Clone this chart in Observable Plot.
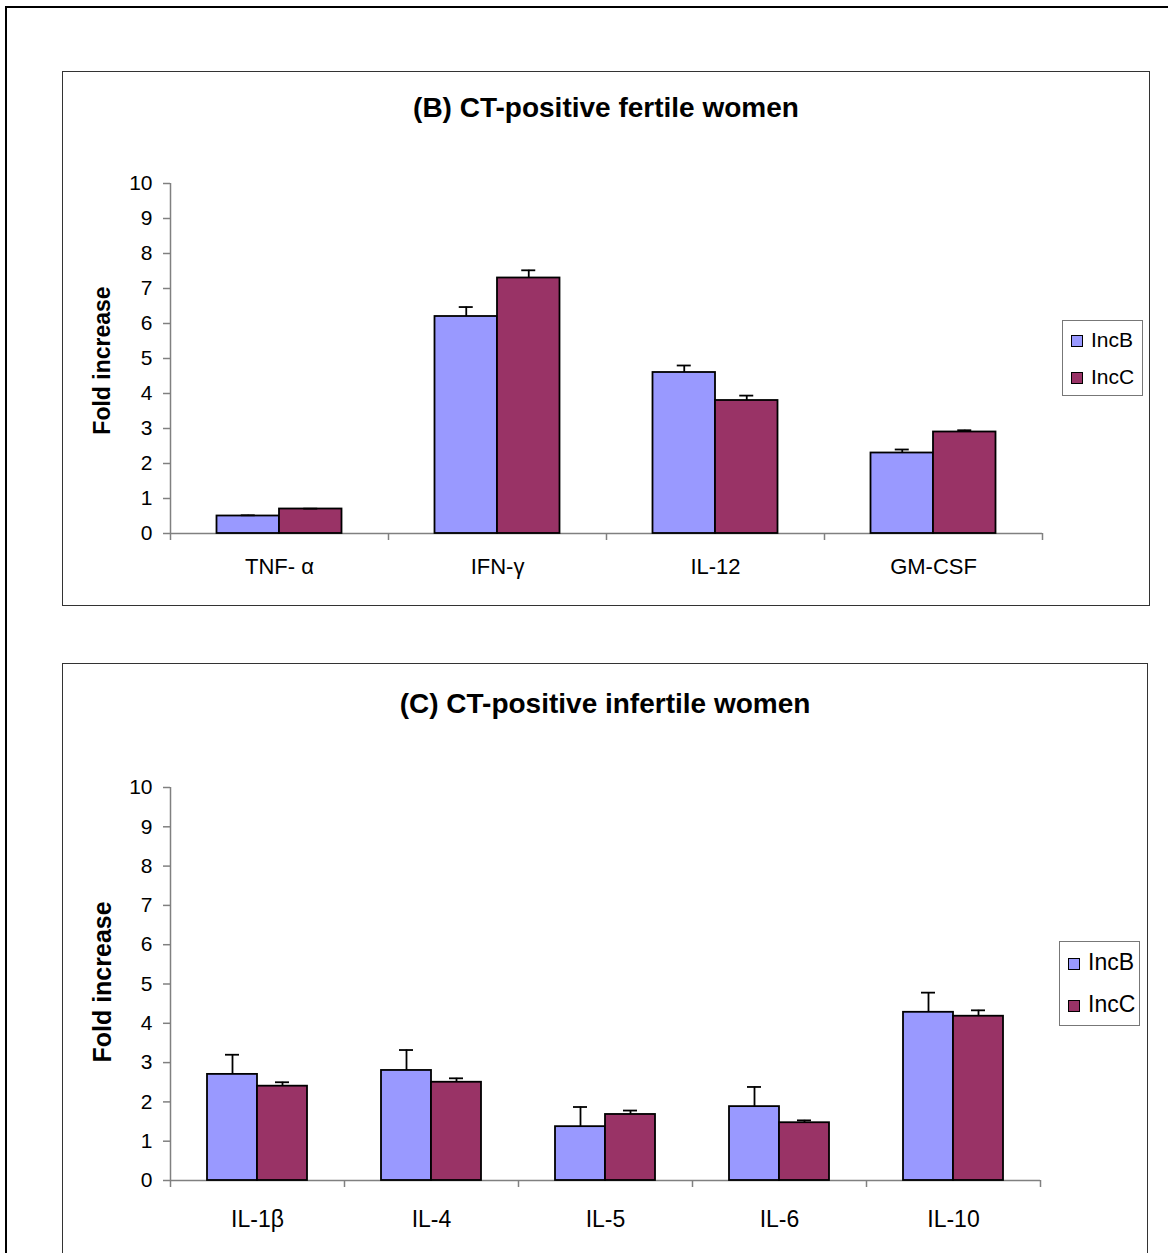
<!DOCTYPE html>
<html>
<head>
<meta charset="utf-8">
<script src="https://cdn.jsdelivr.net/npm/d3@7"></script>
<script src="https://cdn.jsdelivr.net/npm/@observablehq/plot@0.6"></script>
<style>
  html, body { margin: 0; padding: 0; background: #fff; }
  body { width: 1168px; height: 1253px; overflow: hidden; position: relative;
         font-family: "Liberation Sans", Arial, sans-serif; color: #000; }
  .abs { position: absolute; box-sizing: border-box; }
  .outer { left: 5px; top: 6px; width: 1200px; height: 1300px; border: 2px solid #000; }
  .panel { border: 1.6px solid #333; background: #fff; }
  .title { font-weight: bold; font-size: 28px; line-height: 32px; text-align: center; white-space: nowrap; }
  .legend { border: 1.5px solid #777; background: #fff; }
  .sw { position: absolute; width: 12px; height: 12px; box-sizing: border-box; border: 1.5px solid #000; }
  .lt { position: absolute; white-space: nowrap; line-height: 1; }
  svg { position: absolute; overflow: visible; }
</style>
</head>
<body>
<div class="abs outer"></div>
<div class="abs panel" style="left:62px;top:71px;width:1088px;height:535px;"></div>
<div class="abs panel" style="left:62px;top:663px;width:1086px;height:700px;"></div>
<div id="chartB"></div>
<div id="chartC"></div>
<script>
// ---- Data ----
const seriesNames = ["IncB", "IncC"];
const seriesColors = ["#9999FF", "#993366"];
const yTicks = [0, 1, 2, 3, 4, 5, 6, 7, 8, 9, 10];

const titleB = "(B) CT-positive fertile women";
const catsB = ["TNF- α", "IFN-γ", "IL-12", "GM-CSF"];
const incB_B = [0.5, 6.2, 4.6, 2.3];
const errB_B = [0.02, 0.27, 0.2, 0.1];
const incC_B = [0.7, 7.3, 3.8, 2.9];
const errC_B = [0.01, 0.22, 0.14, 0.05];

const titleC = "(C) CT-positive infertile women";
const catsC = ["IL-1β", "IL-4", "IL-5", "IL-6", "IL-10"];
const incB_C = [2.7, 2.8, 1.37, 1.88, 4.28];
const errB_C = [0.5, 0.52, 0.5, 0.5, 0.5];
const incC_C = [2.4, 2.5, 1.68, 1.47, 4.18];
const errC_C = [0.1, 0.1, 0.1, 0.06, 0.15];

const yLabel = "Fold increase";
const axisColor = "#808080";

function addTitle(text, left, width, top) {
  const d = document.createElement("div");
  d.className = "abs title";
  d.style.left = left + "px"; d.style.width = width + "px"; d.style.top = top + "px";
  d.textContent = text;
  document.body.appendChild(d);
}

function addLegend(o) {
  const box = document.createElement("div");
  box.className = "abs legend";
  Object.assign(box.style, {left: o.left + "px", top: o.top + "px", width: o.width + "px", height: o.height + "px"});
  seriesNames.forEach((name, i) => {
    const sw = document.createElement("div");
    sw.className = "sw";
    sw.style.background = seriesColors[i];
    sw.style.left = o.swLeft + "px";
    sw.style.top = (o.firstTop + i * o.gap) + "px";
    box.appendChild(sw);
    const t = document.createElement("div");
    t.className = "lt";
    t.style.fontSize = o.fontSize + "px";
    t.style.left = o.textLeft + "px";
    t.style.top = (o.firstTop + i * o.gap + o.textDy) + "px";
    t.textContent = name;
    box.appendChild(t);
  });
  document.body.appendChild(box);
}

function chart(o) {
  const {cats, b, be, c, ce} = o;
  const rows = cats.map((cat, i) => ({cat, b: b[i], be: be[i], c: c[i], ce: ce[i]}));
  const step = (o.width - o.marginLeft - o.marginRight) / cats.length;
  const w = o.barWidth, cap = o.capHalf;
  const svg = Plot.plot({
    width: o.width, height: o.height,
    marginLeft: o.marginLeft, marginRight: o.marginRight,
    marginTop: o.marginTop, marginBottom: o.marginBottom,
    style: {fontFamily: "Liberation Sans, Arial, sans-serif", background: "transparent", overflow: "visible", color: "#000"},
    x: {domain: cats, type: "band", padding: 0, round: false, axis: null},
    y: {domain: [0, 10], axis: null},
    marks: [
      // y-axis line and baseline
      Plot.ruleX(cats.slice(0, 1), {x: d => d, dx: -step / 2, y1: 0, y2: 10, stroke: axisColor, strokeWidth: 1.5}),
      Plot.ruleY([0], {stroke: axisColor, strokeWidth: 1.5}),
      // y ticks and labels
      Plot.axisY(yTicks, {tickSize: 7, tickPadding: o.yTickPad, fontSize: o.tickFont, label: null,
                          stroke: axisColor, strokeWidth: 1.5, fill: "#000", tickFormat: d => String(d)}),
      // category boundary ticks (Excel style, between categories)
      Plot.axisX(cats, {tickSize: 7, dx: -step / 2, tickFormat: () => "", label: null, stroke: axisColor, strokeWidth: 1.5}),
      Plot.axisX(cats.slice(-1), {tickSize: 7, dx: step / 2, tickFormat: () => "", label: null, stroke: axisColor, strokeWidth: 1.5}),
      // category labels
      Plot.axisX(cats, {tickSize: 0, tickPadding: o.xLabelPad, fontSize: o.catFont, label: null, fill: "#000"}),
      // bars
      Plot.barY(rows, {x: "cat", y: "b", fill: seriesColors[0], stroke: "#000", strokeWidth: 1.8,
                       insetLeft: step / 2 - w, insetRight: step / 2}),
      Plot.barY(rows, {x: "cat", y: "c", fill: seriesColors[1], stroke: "#000", strokeWidth: 1.8,
                       insetLeft: step / 2, insetRight: step / 2 - w}),
      // error bars (upper only)
      Plot.ruleX(rows, {x: "cat", y1: "b", y2: d => d.b + d.be, dx: -w / 2, stroke: "#000", strokeWidth: 1.8}),
      Plot.ruleX(rows, {x: "cat", y1: "c", y2: d => d.c + d.ce, dx: w / 2, stroke: "#000", strokeWidth: 1.8}),
      Plot.tickY(rows, {x: "cat", y: d => d.b + d.be, stroke: "#000", strokeWidth: 1.8,
                        insetLeft: step / 2 - w / 2 - cap, insetRight: step / 2 + w / 2 - cap}),
      Plot.tickY(rows, {x: "cat", y: d => d.c + d.ce, stroke: "#000", strokeWidth: 1.8,
                        insetLeft: step / 2 + w / 2 - cap, insetRight: step / 2 - w / 2 - cap}),
      // y-axis title
      Plot.text([yLabel], {frameAnchor: "left", textAnchor: "middle", rotate: -90, dx: o.yLabelDx,
                           dy: o.yLabelDy, fontSize: o.yLabelFont, fontWeight: "bold", fill: "#000"})
    ]
  });
  svg.style.left = o.left + "px";
  svg.style.top = o.top + "px";
  document.getElementById(o.id).appendChild(svg);
}

addTitle(titleB, 62, 1088, 92);
chart({id: "chartB", cats: catsB, b: incB_B, be: errB_B, c: incC_B, ce: errC_B,
       left: 62, top: 170, width: 1000, height: 420,
       marginLeft: 108, marginRight: 20, marginTop: 13, marginBottom: 57,
       barWidth: 62.5, capHalf: 7, yTickPad: 11, tickFont: 21, catFont: 22, xLabelPad: 25,
       yLabelDx: -68, yLabelDy: 2, yLabelFont: 23});
addLegend({left: 1062, top: 320, width: 81, height: 76, swLeft: 8, firstTop: 14, gap: 37,
           textLeft: 28, textDy: -6, fontSize: 21});

addTitle(titleC, 62, 1086, 688);
chart({id: "chartC", cats: catsC, b: incB_C, be: errB_C, c: incC_C, ce: errC_C,
       left: 62, top: 770, width: 1000, height: 470,
       marginLeft: 108, marginRight: 22, marginTop: 17, marginBottom: 60,
       barWidth: 50, capHalf: 7, yTickPad: 11, tickFont: 21, catFont: 23, xLabelPad: 30,
       yLabelDx: -68, yLabelDy: -2, yLabelFont: 25});
addLegend({left: 1059, top: 941, width: 81, height: 85, swLeft: 8, firstTop: 16, gap: 42,
           textLeft: 28, textDy: -7, fontSize: 23});
</script>
</body>
</html>
